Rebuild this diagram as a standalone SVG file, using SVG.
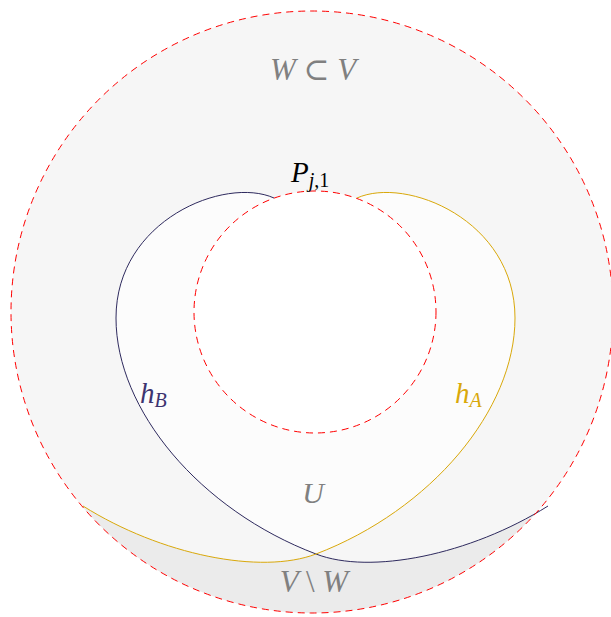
<svg xmlns="http://www.w3.org/2000/svg" width="611" height="617" viewBox="0 0 611 617">
<style>
.dash{fill:none;stroke:#ff0000;stroke-width:1;stroke-dasharray:7 5}
.lbl{font-family:"Liberation Serif","DejaVu Serif",serif;font-style:italic}
.gray{fill:#808080}
.up{font-style:normal}
</style>
<defs>
<clipPath id="big"><circle cx="312" cy="312" r="301"/></clipPath>
</defs>
<g id="regions">
<circle id="V" cx="312" cy="312" r="301" fill="#f6f6f6"/>
<path id="Ufill" fill="#fcfcfc" d="M274,198 C225,176 116,220 116,318 C116,410 200,510 316,554 C431,510 515,410 515,318 C515,220 406,176 357,198 Z"/>
<path id="VW" clip-path="url(#big)" fill="#ebebeb" d="M83,506 C161,555 261,575 316,554 C370,575 470,555 548,506 L640,480 L640,640 L-20,640 L-20,480 Z"/>
<circle id="inner" cx="315" cy="312" r="121" fill="#ffffff"/>
</g>
<g id="connectors">
<path id="hB" fill="none" stroke="#2e2a5e" stroke-width="1" d="M274,198 C225,176 116,220 116,318 C116,410 200,510 316,554 C370,575 470,555 548,506"/>
<path id="hA" fill="none" stroke="#d9a80a" stroke-width="1" d="M357,198 C406,176 515,220 515,318 C515,410 431,510 316,554 C261,575 161,555 83,506"/>
</g>
<g id="circles">
<circle cx="312" cy="312" r="301" class="dash"/>
<circle cx="315" cy="312" r="121" class="dash"/>
</g>
<g id="labels">
<text class="lbl gray" x="313" y="80" font-size="31" text-anchor="middle">W <tspan class="up">⊂</tspan> V</text>
<text class="lbl" x="291" y="182" font-size="29" fill="#000">P<tspan font-size="20" dy="5">j</tspan><tspan font-size="20" class="up">,1</tspan></text>
<text class="lbl" x="140" y="403" font-size="29" fill="#3d3470">h<tspan font-size="20" dy="4">B</tspan></text>
<text class="lbl" x="455" y="403" font-size="29" fill="#d9a80a">h<tspan font-size="20" dy="4">A</tspan></text>
<text class="lbl gray" x="313" y="503" font-size="30" text-anchor="middle">U</text>
<text class="lbl gray" x="314" y="592" font-size="31" text-anchor="middle">V <tspan class="up">\</tspan> W</text>
</g>
</svg>
